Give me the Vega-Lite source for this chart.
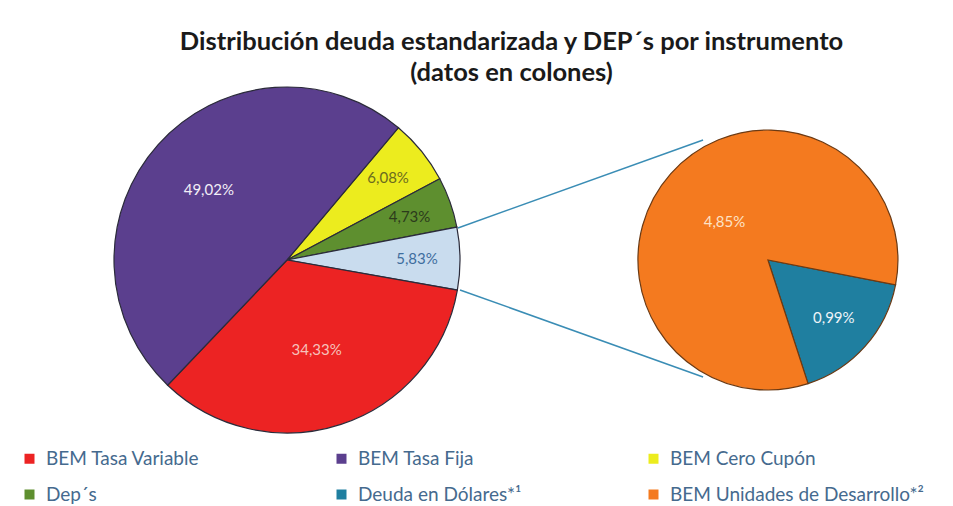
{
  "$schema": "https://vega.github.io/schema/vega-lite/v6.json",
  "width": 953,
  "height": 350,
  "padding": {"top": 30, "left": 0, "right": 0, "bottom": 0},
  "background": "white",
  "config": {
    "view": {"stroke": null},
    "locale": {"number": {"decimal": ",", "thousands": ".", "grouping": [3], "currency": ["", ""]}}
  },
  "title": {
    "text": ["Distribución deuda estandarizada y DEP´s por instrumento", "(datos en colones)"],
    "font": "Lato",
    "fontSize": 25.5,
    "fontWeight": "bold",
    "color": "#1a1a1a",
    "anchor": "middle",
    "dx": 35,
    "lineHeight": 31,
    "offset": -2
  },
  "datasets": {
    "deuda": [
      {"instrumento": "BEM Cero Cupón", "grafico": "Principal", "porcentaje": 0.0608, "orden": 1},
      {"instrumento": "Dep´s", "grafico": "Principal", "porcentaje": 0.0473, "orden": 2},
      {"instrumento": "Otros", "grafico": "Principal", "porcentaje": 0.0583, "orden": 3},
      {"instrumento": "BEM Tasa Variable", "grafico": "Principal", "porcentaje": 0.3433, "orden": 4},
      {"instrumento": "BEM Tasa Fija", "grafico": "Principal", "porcentaje": 0.4902, "orden": 5},
      {"instrumento": "Deuda en Dólares*¹", "grafico": "Secundario", "porcentaje": 0.0099, "orden": 1},
      {"instrumento": "BEM Unidades de Desarrollo*²", "grafico": "Secundario", "porcentaje": 0.0485, "orden": 2}
    ],
    "conectores": [
      {"x": 0.988, "y": 0.185, "x2": 2.405, "y2": 0.694},
      {"x": 1.0, "y": -0.173, "x2": 2.405, "y2": -0.676}
    ]
  },
  "layer": [
    {
      "data": {"name": "conectores"},
      "mark": {"type": "rule", "color": "#3a8db5", "strokeWidth": 1.5},
      "encoding": {
        "x": {"field": "x", "type": "quantitative", "scale": {"domain": [-1.659, 3.8497], "nice": false, "zero": false}, "axis": null},
        "y": {"field": "y", "type": "quantitative", "scale": {"domain": [-1.0116, 1.0116], "nice": false, "zero": false}, "axis": null},
        "x2": {"field": "x2"},
        "y2": {"field": "y2"}
      }
    },
    {
      "data": {"name": "deuda"},
      "transform": [{"filter": "datum.grafico === 'Principal'"}],
      "encoding": {
        "theta": {"field": "porcentaje", "type": "quantitative", "stack": true, "scale": {"range": [0.70, 6.9832]}},
        "order": {"field": "orden", "type": "quantitative"},
        "x": {"datum": 0, "type": "quantitative", "scale": {"domain": [-1.659, 3.8497], "nice": false, "zero": false}, "axis": null},
        "y": {"datum": 0, "type": "quantitative", "scale": {"domain": [-1.0116, 1.0116], "nice": false, "zero": false}, "axis": null}
      },
      "layer": [
        {
          "mark": {"type": "arc", "outerRadius": 173, "stroke": "#2b2b3a", "strokeWidth": 1.2},
          "encoding": {
            "color": {
              "field": "instrumento",
              "type": "nominal",
              "scale": {
                "domain": ["BEM Tasa Variable", "BEM Tasa Fija", "BEM Cero Cupón", "Dep´s", "Deuda en Dólares*¹", "BEM Unidades de Desarrollo*²", "Otros"],
                "range": ["#ec2323", "#5b3f8e", "#ecec1e", "#5e8f2f", "#1f7fa0", "#f47a1f", "#c9dcee"]
              },
              "legend": {
                "orient": "none",
                "legendX": 20,
                "legendY": 364,
                "columns": 3,
                "direction": "horizontal",
                "gridAlign": "all",
                "columnPadding": 32,
                "rowPadding": 16,
                "title": null,
                "values": ["BEM Tasa Variable", "BEM Tasa Fija", "BEM Cero Cupón", "Dep´s", "Deuda en Dólares*¹", "BEM Unidades de Desarrollo*²"],
                "symbolType": "square",
                "symbolSize": 100,
                "symbolStrokeWidth": 0,
                "labelFont": "Lato",
                "labelFontSize": 19,
                "labelColor": "#456a8e",
                "labelOffset": 7,
                "labelLimit": 400
              }
            }
          }
        },
        {
          "mark": {
            "type": "text",
            "font": "Lato",
            "fontSize": 15,
            "radius": {"expr": "datum.instrumento === 'BEM Tasa Variable' ? 95 : (datum.instrumento === 'BEM Tasa Fija' ? 105 : 130)"}
          },
          "encoding": {
            "text": {"field": "porcentaje", "type": "quantitative", "format": ".2%"},
            "color": {
              "condition": [
                {"test": "datum.instrumento === 'BEM Cero Cupón'", "value": "#6b6b1e"},
                {"test": "datum.instrumento === 'Dep´s'", "value": "#2c3b1c"},
                {"test": "datum.instrumento === 'Otros'", "value": "#3f6e9e"},
                {"test": "datum.instrumento === 'BEM Tasa Variable'", "value": "#f6c2bb"}
              ],
              "value": "#f2eef7"
            }
          }
        }
      ]
    },
    {
      "data": {"name": "deuda"},
      "transform": [{"filter": "datum.grafico === 'Secundario'"}],
      "encoding": {
        "theta": {"field": "porcentaje", "type": "quantitative", "stack": true, "scale": {"range": [1.763, 8.0462]}},
        "order": {"field": "orden", "type": "quantitative"},
        "x": {"datum": 2.78, "type": "quantitative", "scale": {"domain": [-1.659, 3.8497], "nice": false, "zero": false}, "axis": null},
        "y": {"datum": 0, "type": "quantitative", "scale": {"domain": [-1.0116, 1.0116], "nice": false, "zero": false}, "axis": null}
      },
      "layer": [
        {
          "mark": {"type": "arc", "outerRadius": 130, "stroke": "#6b3a14", "strokeWidth": 1.2},
          "encoding": {
            "color": {"field": "instrumento", "type": "nominal"}
          }
        },
        {
          "mark": {
            "type": "text",
            "font": "Lato",
            "fontSize": 15,
            "radius": {"expr": "datum.instrumento === 'Deuda en Dólares*¹' ? 88 : 58"}
          },
          "encoding": {
            "text": {"field": "porcentaje", "type": "quantitative", "format": ".2%"},
            "color": {
              "condition": [
                {"test": "datum.instrumento === 'BEM Unidades de Desarrollo*²'", "value": "#fde2c6"}
              ],
              "value": "#eef4f8"
            }
          }
        }
      ]
    }
  ],
  "resolve": {"scale": {"theta": "independent"}}
}
